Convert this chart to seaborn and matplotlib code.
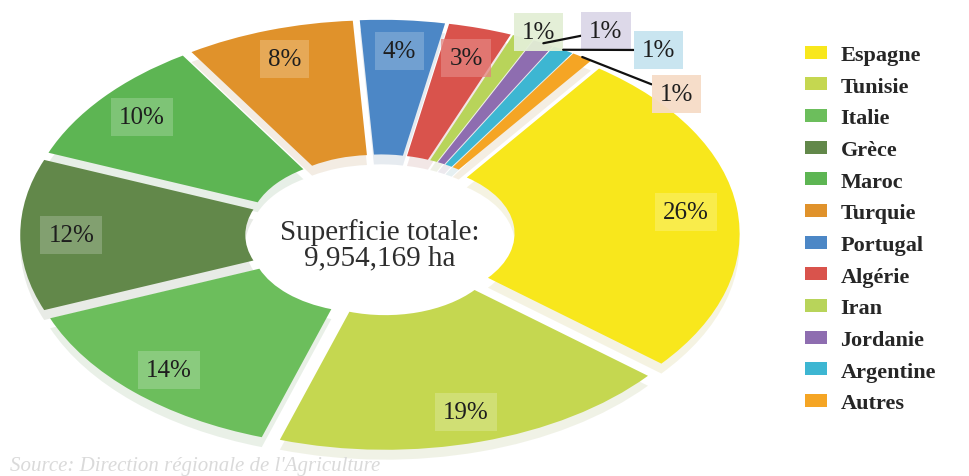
import numpy as np
import matplotlib
matplotlib.use("Agg")
import matplotlib.pyplot as plt
import seaborn as sns
from matplotlib.colors import to_rgb

# Olive-growing area by country (share of total, %)
countries = ["Espagne", "Tunisie", "Italie", "Grèce", "Maroc", "Turquie",
             "Portugal", "Algérie", "Iran", "Jordanie", "Argentine", "Autres"]
shares = [26, 19, 14, 12, 10, 8, 4, 3, 1, 1, 1, 1]
slice_colors = ["#F8E71C", "#C5D750", "#6CBE5C", "#62884A", "#5DB553", "#E0922B",
                "#4C87C6", "#D9534C", "#B8D45A", "#8E6DB0", "#3DB6D2", "#F5A524"]
callout_colors = ["#E3EFD5", "#DCD7E8", "#C6E4F0", "#F6DCC6"]
center_title = "Superficie totale:"
center_value = "9,954,169 ha"
source_note = "Source: Direction régionale de l'Agriculture"

sns.set_theme(style="white")
plt.rcParams["font.family"] = ["Liberation Serif", "DejaVu Serif"]

W, H = 969, 477
fig = plt.figure(figsize=(W / 100, H / 100), dpi=100)
ax = fig.add_axes([0, 0, 1, 1])

EXPLODE = 0.055
wedges, _ = ax.pie(
    shares, colors=slice_colors, startangle=54, counterclock=False,
    explode=[EXPLODE] * len(shares), radius=1.0,
    wedgeprops=dict(width=0.66, linewidth=0),
    shadow={"ox": 0.0, "oy": -0.035, "shade": 0.3, "alpha": 0.12},
)

# stretch the donut into a wide ellipse: pixels per data unit on each axis
SX, SY = 341, 204
CX, CY = 380, 241
ax.set_aspect("auto")
ax.set_xlim(-CX / SX, (W - CX) / SX)
ax.set_ylim(-CY / SY, (H - CY) / SY)
ax.axis("off")


def mid_angle(w):
    return np.deg2rad((w.theta1 + w.theta2) / 2)


# percentage labels inside the larger slices
n_inside = 8
for w, val, col in zip(wedges[:n_inside], shares[:n_inside], slice_colors[:n_inside]):
    a = mid_angle(w)
    r = EXPLODE + 0.85
    box = tuple(0.72 * np.array(to_rgb(col)) + 0.28)
    ax.text(r * np.cos(a), r * np.sin(a), f"{val}%", ha="center", va="center",
            fontsize=18, color="#1E1E1E",
            bbox=dict(boxstyle="square,pad=0.32", facecolor=box, edgecolor="none", alpha=0.75))

# callouts for the four smallest slices
fan_shift = [-1.6, -6.5, -11.4, -17.3]
fan_radius = [1.1, 1.2, 1.22, 1.11]
for k, (w, val) in enumerate(zip(wedges[n_inside:], shares[n_inside:])):
    a = mid_angle(w)
    edge = (1 + EXPLODE) * np.array([np.cos(a), np.sin(a)])
    la = a + np.deg2rad(fan_shift[k])
    txt = fan_radius[k] * np.array([np.cos(la), np.sin(la)])
    ax.annotate(f"{val}%", xy=edge, xytext=txt, ha="center", va="center",
                fontsize=18, color="#1E1E1E",
                bbox=dict(boxstyle="square,pad=0.32", facecolor=callout_colors[k],
                          edgecolor="none", alpha=0.95),
                arrowprops=dict(arrowstyle="-", color="#111111", lw=1.6,
                                shrinkA=0, shrinkB=0) if k > 0 else None)

# total area in the hole
ax.text(0, -0.045, f"{center_title}\n{center_value}", ha="center", va="center",
        fontsize=21, color="#2E2E2E", linespacing=1.0)

leg = ax.legend(wedges, countries, loc="upper left",
                bbox_to_anchor=(805 / W, 1 - 46 / H), bbox_transform=fig.transFigure,
                frameon=False, borderpad=0, borderaxespad=0,
                prop=dict(family=["Liberation Serif", "DejaVu Serif"], weight="bold", size=16),
                handlelength=1.0, handleheight=0.54, handletextpad=0.6, labelspacing=0.525)

fig.text(10 / W, 6 / H, source_note, fontsize=15, style="italic", color="#DADADA",
         ha="left", va="baseline")

fig.savefig("out.png", dpi=100, facecolor="white")
